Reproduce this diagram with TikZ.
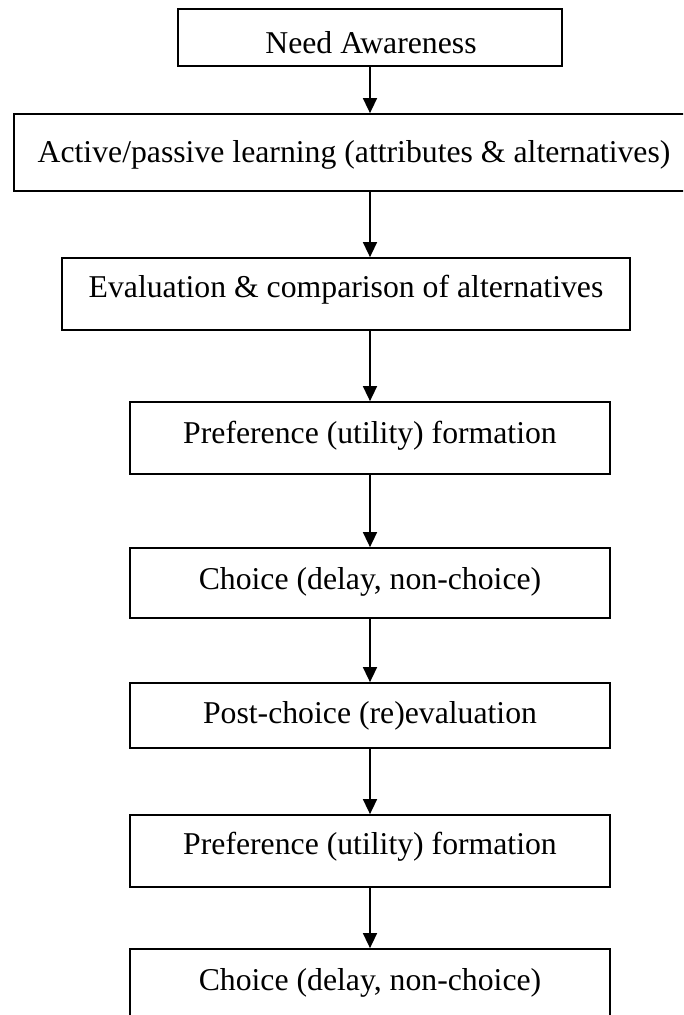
\documentclass[tikz,border=0pt]{standalone}
\usepackage{fontspec}
\setmainfont{Liberation Serif}
\usetikzlibrary{arrows.meta}
\tikzset{
  stagebox/.style 2 args={draw=black, line width=1.3pt, fill=none, inner sep=0pt,
    minimum width=#1*0.75pt, minimum height=#2*0.75pt},
  stagetext/.style={anchor=base, inner sep=0pt, font=\fontsize{23.8}{28}\selectfont},
  flowarrow/.style={draw=black, line width=1.1pt,
    -{Triangle[length=11.25pt, width=10.5pt]}}
}
\begin{document}
\begin{tikzpicture}[x=0.75pt, y=-0.75pt]
\clip (0,0) rectangle (683,1015);
\useasboundingbox (0,0) rectangle (683,1015);
\fill[white] (0,0) rectangle (683,1015);
% boxes
\node[stagebox={384}{57}] (b1) at (370,37.5) {};
\node[stagebox={676}{77}] (b2) at (352,152.5) {};
\node[stagebox={568}{72}] (b3) at (346,294) {};
\node[stagebox={480}{72}] (b4) at (370,438) {};
\node[stagebox={480}{70}] (b5) at (370,583) {};
\node[stagebox={480}{65}] (b6) at (370,715.5) {};
\node[stagebox={480}{72}] (b7) at (370,851) {};
\node[stagebox={480}{73}] (b8) at (370,985.5) {};
% texts
\node[stagetext] (t1) at (371,53) {Need Awareness};
\node[stagetext] (t2) at (354,162) {Active/passive learning (attributes \& alternatives)};
\node[stagetext] (t3) at (346,297) {Evaluation \& comparison of alternatives};
\node[stagetext] (t4) at (370,443) {Preference (utility) formation};
\node[stagetext] (t5) at (370,589) {Choice (delay, non-choice)};
\node[stagetext] (t6) at (370,723) {Post-choice (re)evaluation};
\node[stagetext] (t7) at (370,854) {Preference (utility) formation};
\node[stagetext] (t8) at (370,990) {Choice (delay, non-choice)};
% arrows
\draw[flowarrow] (b1.south) -- (b1.south |- b2.north);
\draw[flowarrow] (b1.south |- b2.south) -- (b1.south |- b3.north);
\draw[flowarrow] (b1.south |- b3.south) -- (b4.north);
\draw[flowarrow] (b4.south) -- (b5.north);
\draw[flowarrow] (b5.south) -- (b6.north);
\draw[flowarrow] (b6.south) -- (b7.north);
\draw[flowarrow] (b7.south) -- (b8.north);
\end{tikzpicture}
\end{document}
